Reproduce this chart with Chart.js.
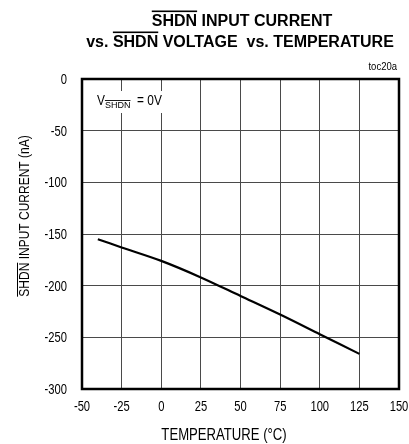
<!DOCTYPE html>
<html>
<head>
<meta charset="utf-8">
<script src="https://cdn.jsdelivr.net/npm/chart.js@4/dist/chart.umd.min.js"></script>
<style>
    html, body { margin: 0; padding: 0; background: #fff; }
    #wrap { width: 409px; height: 444px; position: relative; }
</style>
</head>
<body>
<div id="wrap"><canvas id="chart" width="409" height="444"></canvas></div>
<script>
// SHDN input current vs temperature, V_SHDN = 0V
const temperatures = [-40, -25, 0, 25, 50, 75, 100, 125];
const currents = [-155, -163, -176, -192, -210, -228, -247, -266];
const xTicks = [-50, -25, 0, 25, 50, 75, 100, 125, 150];
const yTicks = [0, -50, -100, -150, -200, -250, -300];

const FONT = '"Liberation Sans", Arial, sans-serif';
const NARROW = 0.8; // squeeze Arial into an Arial Narrow look

// draws a run of text pieces, each with its own font and horizontal squeeze;
// pieces flagged "over" get an overline
function drawParts(ctx, parts, x, y, align) {
    let total = 0;
    parts.forEach(p => { ctx.font = p.font; total += ctx.measureText(p.text).width * (p.sx || 1); });
    let cx = align === 'center' ? x - total / 2 : (align === 'right' ? x - total : x);
    parts.forEach(p => {
        const sx = p.sx || 1;
        ctx.font = p.font;
        const w = ctx.measureText(p.text).width * sx;
        ctx.save();
        ctx.translate(cx, y + (p.dy || 0));
        ctx.scale(sx, 1);
        ctx.textAlign = 'left';
        ctx.fillText(p.text, 0, 0);
        ctx.restore();
        if (p.over) {
            ctx.fillRect(cx, y + (p.dy || 0) - p.overAt, w, p.overW || 1.2);
        }
        cx += w;
    });
}

const decorations = {
    id: 'decorations',
    afterDatasetsDraw(chart) {
        const ctx = chart.ctx;
        const a = chart.chartArea;
        const xs = chart.scales.x;
        const ys = chart.scales.y;
        const tick = '14px ' + FONT;

        ctx.save();
        ctx.fillStyle = '#000';
        ctx.textBaseline = 'alphabetic';

        // title, two lines
        const tb = 'bold 16px ' + FONT;
        drawParts(ctx, [
            { text: 'SHDN', font: tb, over: true, overAt: 15.5, overW: 1.6 },
            { text: ' INPUT CURRENT', font: tb }
        ], 242, 26, 'center');
        drawParts(ctx, [
            { text: 'vs. ', font: tb },
            { text: 'SHDN', font: tb, over: true, overAt: 15.5, overW: 1.6 },
            { text: ' VOLTAGE  vs. TEMPERATURE', font: tb }
        ], 240, 47, 'center');

        drawParts(ctx, [{ text: 'toc20a', font: '10px ' + FONT, sx: 0.95 }], 397, 70, 'right');

        // tick labels from the scales
        ctx.textBaseline = 'middle';
        yTicks.forEach(v => {
            drawParts(ctx, [{ text: String(v), font: tick, sx: NARROW }], 67, ys.getPixelForValue(v) + 1, 'right');
        });
        xTicks.forEach(v => {
            drawParts(ctx, [{ text: String(v), font: tick, sx: NARROW }], xs.getPixelForValue(v), 407, 'center');
        });
        ctx.textBaseline = 'alphabetic';

        // condition label with white backing over the grid
        ctx.fillStyle = '#fff';
        ctx.fillRect(a.left + 10, a.top + 12, 76, 22);
        ctx.fillStyle = '#000';
        drawParts(ctx, [
            { text: 'V', font: '14px ' + FONT, sx: 0.85 },
            { text: 'SHDN', font: '9px ' + FONT, dy: 3, over: true, overAt: 8, overW: 0.9 },
            { text: '  = 0V', font: '14px ' + FONT, sx: 0.85 }
        ], 97, 105, 'left');

        // axis titles
        drawParts(ctx, [{ text: 'TEMPERATURE (°C)', font: '16px ' + FONT, sx: 0.82 }], 224, 440, 'center');

        ctx.translate(29, 216);
        ctx.rotate(-Math.PI / 2);
        drawParts(ctx, [
            { text: 'SHDN', font: '15px ' + FONT, sx: NARROW, over: true, overAt: 12, overW: 1 },
            { text: ' INPUT CURRENT (nA)', font: '15px ' + FONT, sx: NARROW }
        ], 0, 0, 'center');
        ctx.restore();

        // heavy frame
        ctx.save();
        ctx.strokeStyle = '#000';
        ctx.lineWidth = 2.5;
        ctx.strokeRect(a.left, a.top, a.right - a.left, a.bottom - a.top);
        ctx.restore();
    }
};

const ctx = document.getElementById('chart').getContext('2d');
new Chart(ctx, {
    type: 'line',
    data: {
        datasets: [{
            data: temperatures.map((t, i) => ({ x: t, y: currents[i] })),
            borderColor: '#000',
            borderWidth: 2.2,
            pointRadius: 0,
            tension: 0.3,
            fill: false
        }]
    },
    options: {
        responsive: false,
        animation: false,
        layout: { padding: { left: 0, top: 79, right: 10, bottom: 0 } },
        plugins: {
            legend: { display: false },
            tooltip: { enabled: false }
        },
        scales: {
            x: {
                type: 'linear',
                min: -50,
                max: 150,
                afterBuildTicks: s => { s.ticks = xTicks.map(v => ({ value: v })); },
                afterFit: s => { s.height = 55; },
                grid: { color: '#4a4a4a', lineWidth: 1, drawTicks: false },
                border: { display: false },
                ticks: { display: false }
            },
            y: {
                type: 'linear',
                min: -300,
                max: 0,
                afterBuildTicks: s => { s.ticks = yTicks.map(v => ({ value: v })); },
                afterFit: s => { s.width = 82; },
                grid: { color: '#4a4a4a', lineWidth: 1, drawTicks: false },
                border: { display: false },
                ticks: { display: false }
            }
        }
    },
    plugins: [decorations]
});
</script>
</body>
</html>
